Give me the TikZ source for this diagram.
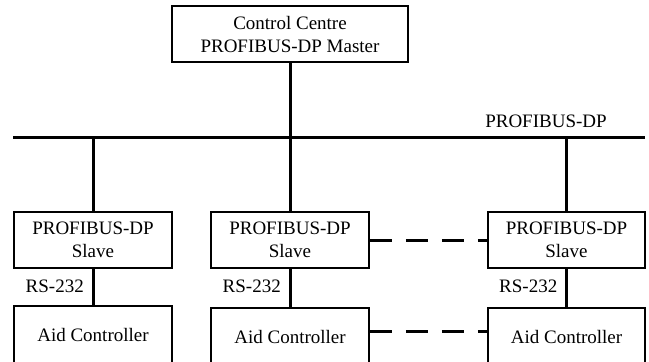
\documentclass[tikz,border=0pt]{standalone}
\usepackage{fontspec}
\setmainfont{Liberation Serif}
\begin{document}
\begin{tikzpicture}[x=1pt,y=-1pt,
  box/.style={draw=black,line width=1.6pt,rectangle,inner sep=0pt,align=center,font=\fontsize{19}{23}\selectfont},
  wire/.style={line width=3pt},
  lbl/.style={inner sep=0pt,font=\fontsize{19}{23}\selectfont},
  dsh/.style={line width=3pt,dash pattern=on 22.5pt off 13.5pt}]
\useasboundingbox (0,0) rectangle (649,362);
\node[box,minimum width=236pt,minimum height=56pt] (m) at (290,34) {Control Centre\\PROFIBUS-DP Master};
\coordinate (bl) at (13,137);
\coordinate (br) at (645,137);
\draw[wire] (bl) -- (br);
\node[lbl] (bus) at (546,121) {PROFIBUS-DP};
\node[box,minimum width=158pt,minimum height=56pt] (s1) at (93,240) {PROFIBUS-DP\\Slave};
\node[box,minimum width=158pt,minimum height=56pt] (s2) at (290,240) {PROFIBUS-DP\\Slave};
\node[box,minimum width=157pt,minimum height=56pt] (s3) at (566.5,240) {PROFIBUS-DP\\Slave};
\node[box,minimum width=158pt,minimum height=58pt] (a1) at (93,335) {Aid Controller};
\node[box,minimum width=158pt,minimum height=58pt] (a2) at (290,337) {Aid Controller};
\node[box,minimum width=157pt,minimum height=58pt] (a3) at (566.5,337) {Aid Controller};
\coordinate (j0) at (290,137);
\coordinate (j1) at (93,137);
\coordinate (j3) at (566.5,137);
\draw[wire] (m.south) -- (j0);
\draw[wire] (j1) -- (s1.north);
\draw[wire] (j0) -- (s2.north);
\draw[wire] (j3) -- (s3.north);
\draw[wire] (s1.south) -- (a1.north);
\draw[wire] (s2.south) -- (a2.north);
\draw[wire] (s3.south) -- (a3.north);
\node[lbl,anchor=east] (r1) at (84,286) {RS-232};
\node[lbl,anchor=east] (r2) at (281,286) {RS-232};
\node[lbl,anchor=east] (r3) at (557.5,286) {RS-232};
\draw[dsh] (s2.east) -- (s3.west);
\draw[dsh] (a2.east |- 0,331) -- (a3.west |- 0,331);
\end{tikzpicture}
\end{document}
